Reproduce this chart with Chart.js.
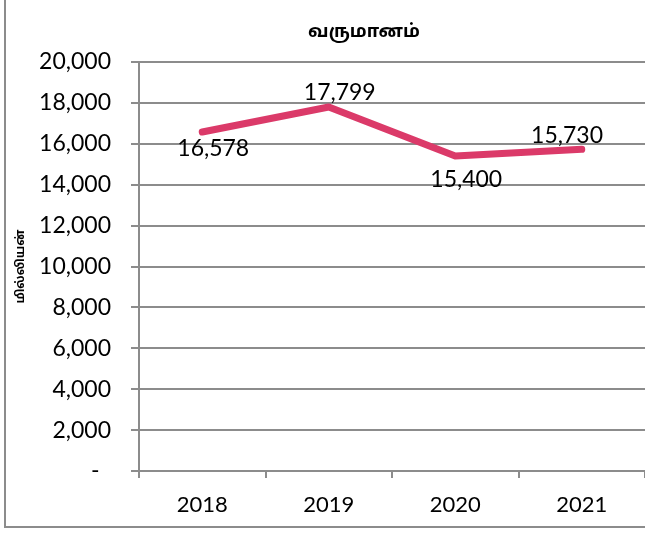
<!DOCTYPE html>
<html>
<head>
<meta charset="utf-8">
<script src="https://cdn.jsdelivr.net/npm/chart.js@4"></script>
<style>
  html, body { margin: 0; padding: 0; background: #fff; }
  #wrap { position: relative; width: 645px; height: 534px; overflow: hidden; }
  #frame { position: absolute; left: 4px; top: 0; width: 700px; height: 526px;
           border-left: 2px solid #8c8c8c; border-bottom: 2px solid #8c8c8c; }
  canvas { position: absolute; left: 0; top: 0; }
</style>
</head>
<body>
<div id="wrap">
  <div id="frame"></div>
  <canvas id="revenueChart" width="645" height="534"></canvas>
</div>
<script>
// values
const years = ["2018", "2019", "2020", "2021"];
const revenue = [16578, 17799, 15400, 15730];
const chartTitle = "வருமானம்";
const axisTitle = "மில்லியன்";

const FONT = "Lato, 'Noto Sans', sans-serif";
const TAMIL = "'Noto Sans Tamil', 'Lohit Tamil', 'Noto Serif Tamil', 'FreeSans', 'Noto Sans', sans-serif";

// title drawn by hand so it sits where the reference has it
const chartHeading = {
    id: "chartHeading",
    afterDraw(chart) {
        const ctx = chart.ctx;
        ctx.save();
        ctx.font = "bold 18px " + TAMIL;
        ctx.fillStyle = "#000";
        ctx.textAlign = "center";
        ctx.textBaseline = "middle";
        ctx.fillText(chartTitle, 364, 33);
        ctx.restore();
    }
};

// draws the value next to each point, like the Excel data labels
// (label placement: below / above / below / above the point)
const valueLabels = {
    id: "valueLabels",
    afterDatasetsDraw(chart) {
        const ctx = chart.ctx;
        const meta = chart.getDatasetMeta(0);
        const dy = [17, -14, 24, -14];
        ctx.save();
        ctx.font = "23px " + FONT;
        ctx.fillStyle = "#000";
        ctx.textBaseline = "middle";
        ctx.textAlign = "center";
        meta.data.forEach((pt, i) => {
            const text = revenue[i].toLocaleString("en-US");
            const w = ctx.measureText(text).width;
            let x = pt.x + 11;
            if (x + w / 2 > chart.width - 42) x = chart.width - 42 - w / 2;
            ctx.fillText(text, x, pt.y + dy[i]);
        });
        ctx.restore();
    }
};

new Chart(document.getElementById("revenueChart"), {
    type: "line",
    data: {
        labels: years,
        datasets: [{
            data: revenue,
            borderColor: "#db3a69",
            borderWidth: 7,
            pointRadius: 0,
            tension: 0,
            borderCapStyle: "round",
            borderJoinStyle: "round"
        }]
    },
    options: {
        responsive: false,
        animation: false,
        layout: { padding: { top: 62, right: 0, bottom: 0, left: 0 } },
        plugins: {
            legend: { display: false },
            tooltip: { enabled: false },
            title: { display: false }
        },
        scales: {
            x: {
                offset: true,
                grid: {
                    offset: true,
                    drawOnChartArea: false,
                    drawTicks: true,
                    tickLength: 7,
                    color: "#8c8c8c",
                    lineWidth: 2
                },
                border: { color: "#8c8c8c", width: 2 },
                ticks: { color: "#000", padding: 14, font: { family: FONT, size: 22 } },
                afterFit: s => { s.height = 534 - 471; }
            },
            y: {
                min: 0,
                max: 20000,
                ticks: {
                    stepSize: 2000,
                    color: "#000",
                    padding: 20,
                    font: { family: FONT, size: 23 },
                    // accounting style: zero shown as a dash, set in from the right
                    callback: v => v === 0 ? "-\u2002" : v.toLocaleString("en-US")
                },
                grid: { color: "#8c8c8c", lineWidth: 2, tickLength: 8 },
                border: { color: "#8c8c8c", width: 2 },
                title: {
                    display: true,
                    text: axisTitle,
                    color: "#000",
                    font: { family: TAMIL, size: 12, weight: "bold" },
                    padding: { top: 14, bottom: 0 }
                },
                afterFit: s => { s.width = 139; }
            }
        }
    },
    plugins: [valueLabels, chartHeading]
});
</script>
</body>
</html>
